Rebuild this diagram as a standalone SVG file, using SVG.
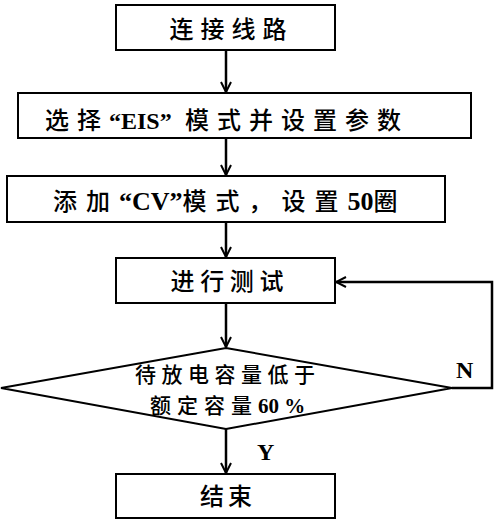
<svg xmlns="http://www.w3.org/2000/svg" width="497" height="523" viewBox="0 0 497 523">
<defs>
<marker id="arr" viewBox="0 0 12 12" refX="11" refY="6" markerWidth="12" markerHeight="12" markerUnits="userSpaceOnUse" orient="auto">
<path d="M1,1 L11,6 L1,11" fill="none" stroke="#000" stroke-width="2"/>
</marker>
<style>
.box{fill:#fff;stroke:#000;stroke-width:2}
.t{font-family:"Noto Sans CJK SC",sans-serif;font-size:24px;font-weight:500;fill:#000}
.m{text-anchor:middle}
.d{font-size:21px}
.l{font-family:"Liberation Serif",serif;font-weight:bold;letter-spacing:0}
.big{font-size:26px}
.c{stroke:#000;stroke-width:2.5;fill:none}
.lbl{font-family:"Liberation Serif",serif;font-size:24px;font-weight:bold;fill:#000}
</style>
</defs>
<rect width="497" height="523" fill="#fff"/>
<g id="connectors">
<line class="c" x1="226" y1="50" x2="226" y2="92" marker-end="url(#arr)"/>
<line class="c" x1="226" y1="138" x2="226" y2="175" marker-end="url(#arr)"/>
<line class="c" x1="226" y1="222" x2="226" y2="257" marker-end="url(#arr)"/>
<line class="c" x1="226" y1="303" x2="226" y2="347" marker-end="url(#arr)"/>
<line class="c" x1="226" y1="429" x2="226" y2="473" marker-end="url(#arr)"/>
<polyline class="c" points="452,388 492,388 492,282 336,282" marker-end="url(#arr)"/>
<text class="lbl" x="456" y="378">N</text>
<text class="lbl" x="257" y="460">Y</text>
</g>
<g id="n1">
<rect class="box" x="116" y="5" width="219" height="45"/>
<text class="t m" x="228" y="38" textLength="117" lengthAdjust="spacing">连接线路</text>
</g>
<g id="n2">
<rect class="box" x="18" y="93" width="453" height="45"/>
<text class="t" x="45" y="129" letter-spacing="8">选择<tspan class="l">“EIS”</tspan> 模式并设置参数</text>
</g>
<g id="n3">
<rect class="box" x="7" y="176" width="438" height="46"/>
<text class="t" x="53" y="210" letter-spacing="9">添加<tspan class="l big">“CV”</tspan>模式，设置<tspan class="l big">50</tspan>圈</text>
</g>
<g id="n4">
<rect class="box" x="116" y="258" width="219" height="45"/>
<text class="t m" x="227" y="290" textLength="113" lengthAdjust="spacing">进行测试</text>
</g>
<g id="n5">
<polygon class="box" points="226,348 452,388 226,429 1,388"/>
<text class="t d m" x="225" y="382" textLength="180" lengthAdjust="spacing">待放电容量低于</text>
<text class="t d" x="150" y="413" letter-spacing="6">额定容量<tspan class="l">60 %</tspan></text>
</g>
<g id="n6">
<rect class="box" x="116" y="474" width="219" height="44"/>
<text class="t m" x="226" y="505" textLength="52" lengthAdjust="spacing">结束</text>
</g>
</svg>
